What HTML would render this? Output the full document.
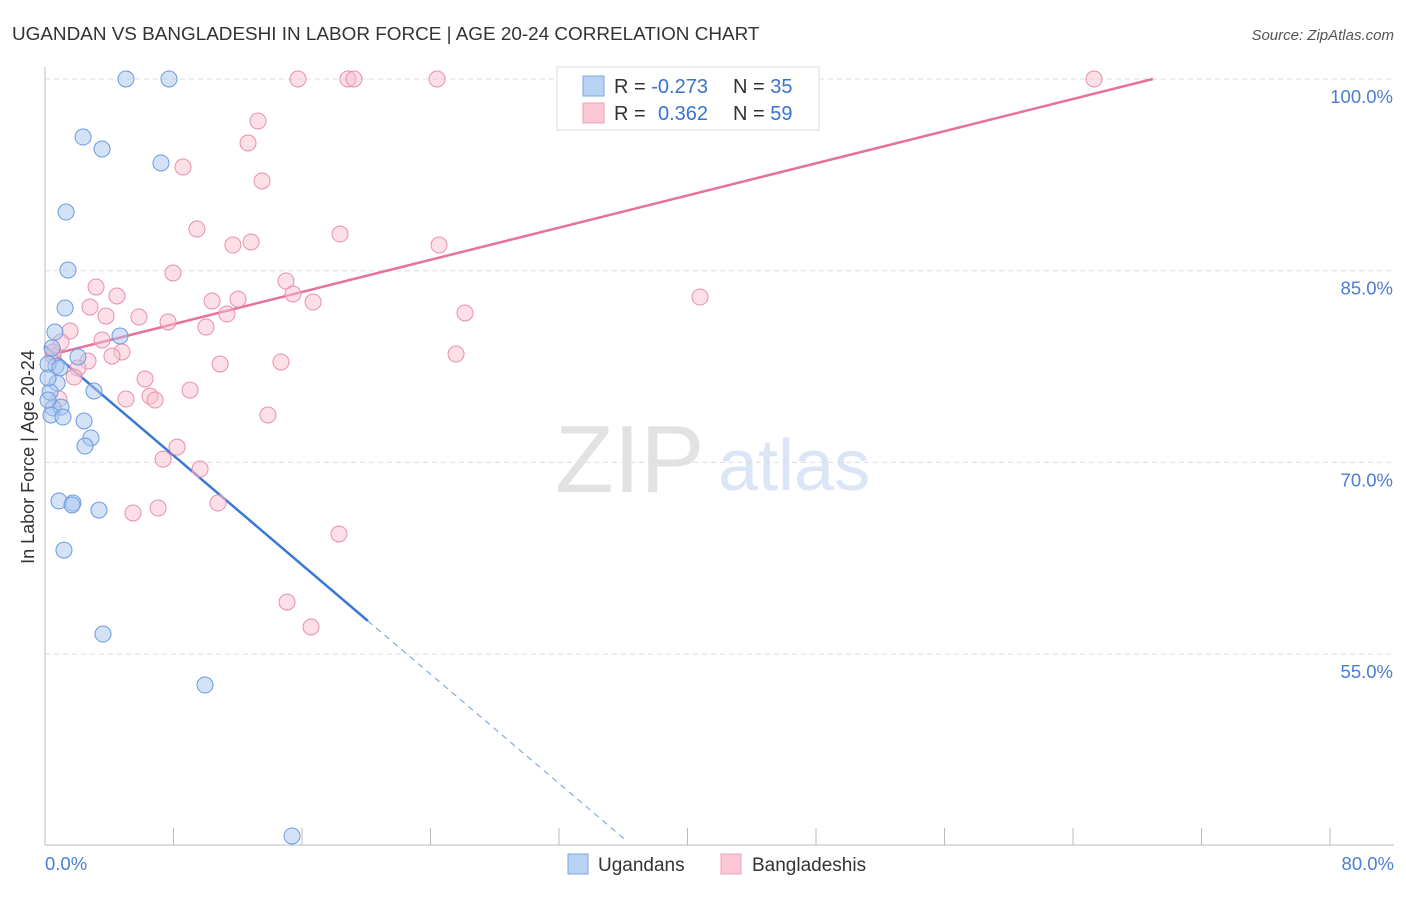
<!DOCTYPE html>
<html><head><meta charset="utf-8"><style>
body{margin:0;background:#fff;font-family:"Liberation Sans",sans-serif}
svg text{font-family:"Liberation Sans",sans-serif}
</style></head><body>
<svg id="c" width="1406" height="892" xmlns="http://www.w3.org/2000/svg">
<text x="12" y="40" font-size="18.9" fill="#333">UGANDAN VS BANGLADESHI IN LABOR FORCE | AGE 20-24 CORRELATION CHART</text>
<text x="1394" y="40" font-size="15" fill="#555" font-style="italic" text-anchor="end">Source: ZipAtlas.com</text>
<text x="555" y="492" font-size="96" fill="#e2e2e2" font-family="Liberation Serif">ZIP</text>
<text x="718" y="490" font-size="72" fill="#dae5f5">atlas</text>
<text transform="translate(34,457) rotate(-90)" font-size="18" fill="#333" text-anchor="middle">In Labor Force | Age 20-24</text>
<g id="grid"></g><g id="axes"></g><g id="lines"></g><g id="pts"></g>
<g>
<rect x="557" y="67" width="262" height="63" fill="#fff" stroke="#ddd"/>
<rect x="583" y="76" width="21" height="20" fill="#b8d2f4" stroke="#7aa6e6"/>
<rect x="583" y="103" width="21" height="20" fill="#fcc8d6" stroke="#eea0b6"/>
<text x="614" y="93" font-size="20" fill="#333">R = <tspan fill="#3a72d0">-0.273</tspan></text>
<text x="733" y="93" font-size="20" fill="#333">N = <tspan fill="#3a72d0">35</tspan></text>
<text x="614" y="120" font-size="20" fill="#333">R = <tspan fill="#3a72d0" x="658">0.362</tspan></text>
<text x="733" y="120" font-size="20" fill="#333">N = <tspan fill="#3a72d0">59</tspan></text>
</g>
<g>
<rect x="568" y="854" width="20" height="20" fill="#b8d2f4" stroke="#7aa6e6"/>
<text x="598" y="871" font-size="19" fill="#333">Ugandans</text>
<rect x="721" y="854" width="20" height="20" fill="#fcc8d6" stroke="#eea0b6"/>
<text x="752" y="871" font-size="19" fill="#333">Bangladeshis</text>
</g>
</svg>
<script>
const blueX=[5.04,7.72,2.37,3.55,7.22,1.31,1.43,1.25,0.62,4.67,0.44,2.05,0.68,0.19,0.93,0.75,0.31,3.05,0.5,1.0,0.37,1.12,2.43,2.86,2.49,0.87,1.74,1.68,3.36,1.18,3.61,9.96,15.38,0.19,0.19];
const blueY=[100,100,95.46,94.52,93.43,89.59,85.05,82.08,80.2,79.89,78.95,78.25,77.54,77.7,77.39,76.21,75.51,75.59,74.26,74.33,73.71,73.55,73.24,71.91,71.28,66.98,66.82,66.67,66.27,63.14,56.57,52.58,40.77,76.6,74.88];
const pinkX=[15.75,18.86,19.24,24.41,65.31,13.26,12.64,8.59,13.51,9.46,18.37,12.83,11.7,24.53,7.97,15.0,3.18,4.48,15.44,10.4,12.02,16.69,2.8,40.78,26.15,11.33,5.85,3.8,7.66,10.02,1.56,3.55,1.0,4.79,4.17,0.5,25.59,14.69,10.9,2.68,2.05,1.81,6.23,9.03,6.54,5.04,6.85,0.87,13.88,8.22,7.35,9.65,10.77,7.04,5.48,18.3,15.07,16.56,0.5];
const pinkY=[100,100,100,100,100,96.71,94.99,93.11,92.02,88.26,87.87,87.25,87.01,87.01,84.82,84.19,83.72,83.02,83.18,82.63,82.78,82.55,82.16,82.94,81.69,81.61,81.38,81.45,80.99,80.59,80.28,79.58,79.42,78.64,78.32,78.32,78.48,77.86,77.7,77.93,77.39,76.68,76.53,75.66,75.19,74.96,74.88,74.96,73.71,71.2,70.26,69.48,66.82,66.43,66.04,64.4,59.07,57.12,78.64];
const pinkTrendX=[0,68.97],pinkTrendY=[78.3,100];
const blueTrendX=[0,20.1],blueTrendY=[79.1,57.6];
const blueDashX=[20.1,36.1],blueDashY=[57.6,40.5];
const yTicks=[100,85,70,55];
const yTickLabels=["100.0%","85.0%","70.0%","55.0%"];
const xTicks=[0,8,16,24,32,40,48,56,64,72,80];
const NS="http://www.w3.org/2000/svg";
const sx=v=>45+v/80*1285, sy=v=>79+(100-v)*12.78;
function mk(t,a,p){const e=document.createElementNS(NS,t);for(const k in a)e.setAttribute(k,a[k]);p.appendChild(e);return e;}
const G=document.getElementById('grid'),A=document.getElementById('axes'),L=document.getElementById('lines'),P=document.getElementById('pts');
yTicks.forEach((v,i)=>{
 const l=mk('line',{x1:45,x2:1394,y1:sy(v),y2:sy(v),stroke:'#ddd','stroke-dasharray':'5,4'},G);
 
 const t=mk('text',{x:1393,y:sy(v)+24,'font-size':18.5,fill:'#4a7fd0','text-anchor':'end'},A);t.textContent=yTickLabels[i];
 
});
const ax=mk('line',{x1:45,x2:1394,y1:845,y2:845,stroke:'#bbb'},A);
const ay=mk('line',{x1:45,x2:45,y1:67,y2:845,stroke:'#bbb'},A);
xTicks.forEach(v=>{const t=mk('line',{x1:sx(v),x2:sx(v),y1:828,y2:845,stroke:'#bbb'},A);});
[[0,"0.0%","start",45],[80,"80.0%","end",1394]].forEach(d=>{const t=mk('text',{x:d[3],y:870,'font-size':18.5,fill:'#4a7fd0','text-anchor':d[2]},A);t.textContent=d[1];});
function pts(X,Y,f,s,n){X.forEach((x,i)=>{const c=mk('circle',{cx:sx(x),cy:sy(Y[i]),r:8,fill:f,'fill-opacity':0.5,stroke:s,'stroke-width':1},P);});}
pts(pinkX,pinkY,'#f9bfd0','#e890aa','bangladeshi-point');
pts(blueX,blueY,'#a8c6f0','#6b9be0','ugandan-point');
function ln(X,Y,c,w,d,n){const l=mk('line',{x1:sx(X[0]),y1:sy(Y[0]),x2:sx(X[1]),y2:sy(Y[1]),stroke:c,'stroke-width':w},L);if(d)l.setAttribute('stroke-dasharray',d);}
ln(pinkTrendX,pinkTrendY,'#e8709a',2.5,null,'bangladeshi-trendline');
ln(blueTrendX,blueTrendY,'#3a78d8',2.5,null,'ugandan-trendline');
ln(blueDashX,blueDashY,'#6b9be0',1,'6,5','ugandan-trendline-extension');
</script>
</body></html>
